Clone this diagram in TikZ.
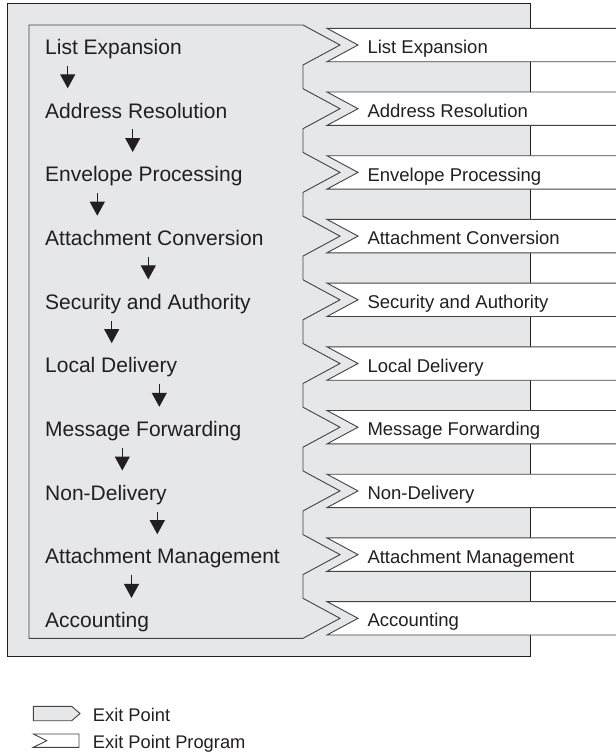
\documentclass[tikz,border=0pt]{standalone}
\usepackage{fontspec}
\setmainfont{Liberation Sans}
\usetikzlibrary{arrows.meta}
\definecolor{panel}{HTML}{E6E7E8}
\definecolor{ink}{HTML}{231F20}
\tikzset{
  leftlbl/.style={anchor=base west, inner sep=0pt, text=ink, font=\fontsize{21}{24}\selectfont},
  rightlbl/.style={anchor=base west, inner sep=0pt, text=ink, font=\fontsize{18.5}{21}\selectfont},
  legendlbl/.style={anchor=base west, inner sep=0pt, text=ink, font=\fontsize{18.3}{21}\selectfont},
  outerbox/.style={draw=ink, line width=1.4pt, fill=panel},
  innerline/.style={draw=ink!85, line width=0.9pt},
  flowarrow/.style={draw=ink, line width=1pt, -{Triangle[width=15pt,length=14pt]}},
  progbox/.style={fill=white},
  progline/.style={draw=ink!85, line width=0.9pt},
}
\begin{document}
\begin{tikzpicture}[x=1pt,y=-1pt]
\useasboundingbox (0,0) rectangle (616,753);
% outer panel
\path[outerbox] (7.5,3.3) rectangle (530.5,656.7);
% inner region with exit-point chevrons
\path[fill=panel, innerline] (29,25)
  \foreach \i in {0,...,9} { -- (303,{25+63.7*\i}) -- (340,{45+63.7*\i}) -- (303,{65+63.7*\i}) }
  -- (29,638.3) -- cycle;
% exit point program boxes
\foreach \i in {0,...,9} {
  \pgfmathsetmacro{\T}{28.3+63.7*\i}
  \pgfmathsetmacro{\M}{45+63.7*\i}
  \pgfmathsetmacro{\B}{61.7+63.7*\i}
  \path[progbox] (621,\T) -- (327,\T) -- (358,\M) -- (327,\B) -- (621,\B) -- cycle;
  \draw[progline] (621,\T) -- (327,\T) -- (358,\M) -- (327,\B) -- (621,\B);
}
% labels
\foreach \t [count=\i from 0] in {List Expansion, Address Resolution, Envelope Processing, Attachment Conversion, Security and Authority, Local Delivery, Message Forwarding, Non-Delivery, Attachment Management, Accounting} {
  \node[leftlbl] (L\i) at (45,{54.3+63.7*\i}) {\t};
  \node[rightlbl] (R\i) at (367.3,{53.6+63.7*\i}) {\t};
}
% flow arrows
\foreach \x [count=\i from 0] in {67.7,132.7,97.3,148.3,111.7,159.3,122.3,157.3,131.5} {
  \coordinate (as\i) at (\x,{65.7+63.7*\i});
  \coordinate (ae\i) at (\x,{88.3+63.7*\i});
  \draw[flowarrow] (as\i) -- (ae\i);
}
% legend
\path[fill=panel, innerline] (33.3,706.3) -- (71.7,706.3) -- (80,713.5) -- (71.7,720.7) -- (33.3,720.7) -- cycle;
\path[fill=white, innerline] (33.3,734) -- (79,734) -- (79,747.3) -- (33.3,747.3) -- (46.7,740.7) -- cycle;
\node[legendlbl] (leg1) at (92.7,721) {Exit Point};
\node[legendlbl] (leg2) at (92.7,748) {Exit Point Program};
\end{tikzpicture}
\end{document}
